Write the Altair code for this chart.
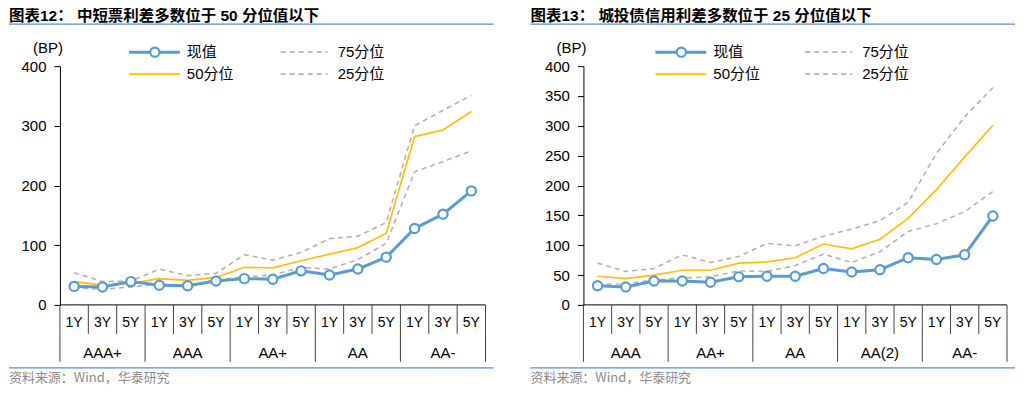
import altair as alt
import pandas as pd

TENORS = ["1Y", "3Y", "5Y"]
GROUPS_L = ["AAA+", "AAA", "AA+", "AA", "AA-"]
GROUPS_R = ["AAA", "AA+", "AA", "AA(2)", "AA-"]

TITLE_L = "图表12：  中短票利差多数位于 50 分位值以下"
TITLE_R = "图表13：  城投债信用利差多数位于 25 分位值以下"
SOURCE = "资料来源：Wind，华泰研究"
UNIT = "(BP)"

SERIES = ["现值", "75分位", "50分位", "25分位"]

cur_L = [31, 30, 39, 33, 32, 40, 44, 43, 57, 50, 60, 80, 128, 152, 191]
p50_L = [39, 33, 36, 44, 41, 46, 63, 62, 74, 85, 96, 120, 282, 293, 324]
p75_L = [54, 39, 40, 60, 49, 53, 84, 75, 88, 111, 115, 138, 300, 326, 351]
p25_L = [29, 26, 30, 35, 33, 42, 47, 50, 63, 60, 76, 103, 223, 240, 258]

cur_R = [32, 30, 40, 40, 38, 47, 48, 48, 61, 55, 59, 79, 76, 84, 149]
p50_R = [48, 44, 50, 58, 58, 70, 72, 79, 102, 94, 110, 145, 193, 248, 301]
p75_R = [70, 56, 61, 84, 71, 81, 103, 99, 115, 127, 141, 172, 254, 315, 364]
p25_R = [35, 35, 42, 45, 47, 57, 56, 66, 85, 71, 89, 123, 136, 156, 190]

TICKS_L = [0, 100, 200, 300, 400]
TICKS_R = [0, 50, 100, 150, 200, 250, 300, 350, 400]

BLUE = "#5B9BD5"
YELLOW = "#FFC000"
GRAY = "#B3B3B3"
RULE_BLUE = "#5B8CC8"
FONT = "Liberation Sans, Noto Sans CJK SC"

W, H = 507, 377


def panel(groups, cur, p50, p75, p25, ticks, title, x0, x1, ox, leg):
    n = len(groups) * len(TENORS)
    xs = alt.Scale(domain=[-0.5, n - 0.5], range=[x0, x1])
    ys = alt.Scale(domain=[0, 400], range=[297, 58])

    rows = []
    for name, vals in zip(SERIES, [cur, p75, p50, p25]):
        for i, v in enumerate(vals):
            rows.append({"i": i, "v": v, "s": name})
    df = pd.DataFrame(rows)

    X = alt.X("i:Q", scale=xs, axis=None)
    Y = alt.Y("v:Q", scale=ys,
              axis=alt.Axis(values=ticks, offset=-x0, title=None, grid=False,
                            domainColor="black", tickColor="black", tickSize=6,
                            labelPadding=8, labelFont=FONT, labelFontSize=15,
                            labelColor="black", labelOverlap=False))

    dashed = alt.Chart(df).transform_filter(
        alt.FieldOneOfPredicate(field="s", oneOf=["75分位", "25分位"])
    ).mark_line(color=GRAY, strokeWidth=1.6, strokeDash=[5, 4]).encode(x=X, y=Y, detail="s:N")
    median = alt.Chart(df).transform_filter(alt.datum.s == "50分位").mark_line(
        color=YELLOW, strokeWidth=1.7).encode(x=X, y=Y)
    curline = alt.Chart(df).transform_filter(alt.datum.s == "现值").mark_line(
        color=BLUE, strokeWidth=3).encode(x=X, y=Y)
    curpts = alt.Chart(df).transform_filter(alt.datum.s == "现值").mark_point(
        shape="circle", filled=True, fill="white", stroke=BLUE, strokeWidth=2.2,
        size=85, opacity=1).encode(x=X, y=Y)

    # category grid below the plot
    cats = []
    for g, grp in enumerate(groups):
        for t, ten in enumerate(TENORS):
            cats.append({"i": g * 3 + t, "ten": ten})
    cdf = pd.DataFrame(cats)
    gdf = pd.DataFrame({"i": [g * 3 + 1 for g in range(len(groups))], "grp": groups})
    short_b = pd.DataFrame({"i": [g * 3 + t + 0.5 for g in range(len(groups)) for t in range(2)]})
    long_b = pd.DataFrame({"i": [g * 3 - 0.5 for g in range(len(groups) + 1)]})
    base_df = pd.DataFrame({"i": [-0.5], "i2": [n - 0.5], "v": [0]})

    baseline = alt.Chart(base_df).mark_rule(color="black", strokeWidth=1).encode(
        x=X, x2="i2:Q", y=Y)
    sb = alt.Chart(short_b).mark_rule(color="#404040", strokeWidth=1).encode(
        x=X, y=alt.value(297), y2=alt.value(326))
    lb = alt.Chart(long_b).mark_rule(color="#404040", strokeWidth=1).encode(
        x=X, y=alt.value(297), y2=alt.value(354))
    tl = alt.Chart(cdf).mark_text(font=FONT, fontSize=14, color="black", baseline="middle").encode(
        x=X, y=alt.value(315), text="ten:N")
    gl = alt.Chart(gdf).mark_text(font=FONT, fontSize=15, color="black", baseline="middle").encode(
        x=X, y=alt.value(345), text="grp:N")

    def one(col, val):
        return pd.DataFrame({col: [val]})

    ttl = alt.Chart(one("t", title)).mark_text(font=FONT, fontSize=15.5, fontWeight="bold",
                                                color="black", align="left",
                                                baseline="alphabetic").encode(
        x=alt.value(ox), y=alt.value(13), text="t:N")
    top_rule = alt.Chart(one("z", 0)).mark_rule(color=RULE_BLUE, strokeWidth=1.3).encode(
        x=alt.value(ox), x2=alt.value(ox + 485), y=alt.value(16))
    bot_rule = alt.Chart(one("z", 0)).mark_rule(color=RULE_BLUE, strokeWidth=1.3).encode(
        x=alt.value(ox), x2=alt.value(ox + 485), y=alt.value(360))
    src = alt.Chart(one("t", SOURCE)).mark_text(font="Noto Sans CJK SC", fontSize=13,
                                                 color="#8C8C8C", align="left", baseline="middle").encode(
        x=alt.value(ox), y=alt.value(370.5), text="t:N")
    unit = alt.Chart(one("t", UNIT)).mark_text(font=FONT, fontSize=15, color="black",
                                                baseline="middle").encode(
        x=alt.value(leg["unit"]), y=alt.value(40), text="t:N")

    lx = leg["lx"]
    dx = leg["dx"]
    r1, r2 = 44, 66
    legend_layers = [
        alt.Chart(one("z", 0)).mark_rule(color=BLUE, strokeWidth=3).encode(
            x=alt.value(lx), x2=alt.value(lx + 51), y=alt.value(r1)),
        alt.Chart(one("z", 0)).mark_point(shape="circle", filled=True, fill="white", stroke=BLUE,
                                          strokeWidth=2.2, size=85, opacity=1).encode(
            x=alt.value(lx + 26), y=alt.value(r1)),
        alt.Chart(one("z", 0)).mark_rule(color=YELLOW, strokeWidth=1.7).encode(
            x=alt.value(lx), x2=alt.value(lx + 51), y=alt.value(r2)),
        alt.Chart(one("z", 0)).mark_rule(color=GRAY, strokeWidth=1.6, strokeDash=[5, 4]).encode(
            x=alt.value(dx), x2=alt.value(dx + 47), y=alt.value(r1)),
        alt.Chart(one("z", 0)).mark_rule(color=GRAY, strokeWidth=1.6, strokeDash=[5, 4]).encode(
            x=alt.value(dx), x2=alt.value(dx + 47), y=alt.value(r2)),
    ]
    for name, xx, yy in [(SERIES[0], lx + 58, r1), (SERIES[2], lx + 58, r2),
                         (SERIES[1], dx + 57, r1), (SERIES[3], dx + 57, r2)]:
        legend_layers.append(
            alt.Chart(one("t", name)).mark_text(font=FONT, fontSize=15, color="black",
                                                align="left", baseline="middle").encode(
                x=alt.value(xx), y=alt.value(yy), text="t:N"))

    return alt.layer(dashed, median, curline, curpts, baseline, sb, lb, tl, gl,
                     ttl, top_rule, bot_rule, src, unit, *legend_layers).properties(width=W, height=H)


left = panel(GROUPS_L, cur_L, p50_L, p75_L, p25_L, TICKS_L, TITLE_L, 51, 477, 0,
             {"lx": 120, "dx": 272, "unit": 39})
right = panel(GROUPS_R, cur_R, p50_R, p75_R, p25_R, TICKS_R, TITLE_R, 68, 492, 15,
              {"lx": 140, "dx": 290, "unit": 56})

chart = alt.hconcat(left, right, spacing=0).properties(padding=0).configure_view(stroke=None)
chart.save("out.html", embed_options={"renderer": "svg", "actions": False})
